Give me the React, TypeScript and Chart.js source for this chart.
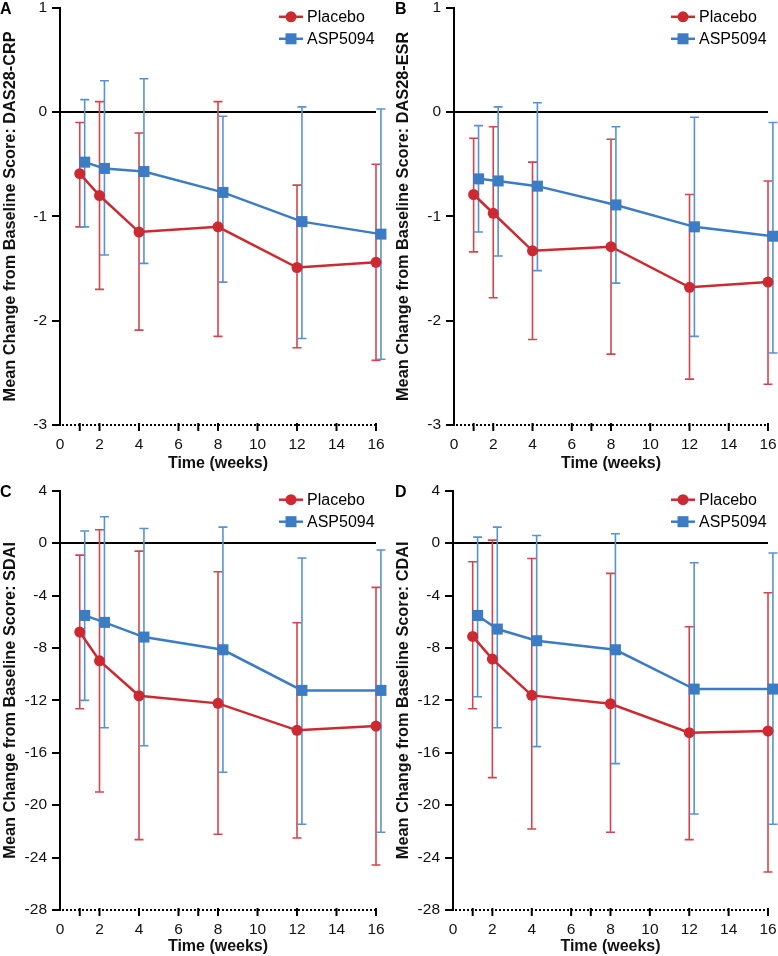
import React, { useEffect, useRef } from "react";
import { Chart, registerables } from "chart.js";

Chart.register(...registerables);

// ---- Data ----
const placeboWeeks = [1, 2, 4, 8, 12, 16];
const aspWeeks = [1.25, 2.25, 4.25, 8.25, 12.25, 16.25];
const xTickValues = [0, 1, 2, 4, 6, 7, 8, 10, 12, 14, 16];
const xLabelValues = [0, 2, 4, 6, 8, 10, 12, 14, 16];

// Panel A: DAS28-CRP
const placeboA = [-0.59, -0.8, -1.15, -1.1, -1.49, -1.44];
const placeboALo = [-1.1, -1.7, -2.09, -2.15, -2.26, -2.38];
const placeboAHi = [-0.1, 0.1, -0.2, 0.1, -0.7, -0.5];
const aspA = [-0.48, -0.54, -0.57, -0.77, -1.05, -1.17];
const aspALo = [-1.1, -1.37, -1.45, -1.63, -2.17, -2.37];
const aspAHi = [0.12, 0.3, 0.32, -0.04, 0.05, 0.03];

// Panel B: DAS28-ESR
const placeboB = [-0.79, -0.97, -1.33, -1.29, -1.68, -1.63];
const placeboBLo = [-1.34, -1.78, -2.18, -2.32, -2.56, -2.61];
const placeboBHi = [-0.25, -0.14, -0.48, -0.26, -0.79, -0.66];
const aspB = [-0.64, -0.66, -0.71, -0.89, -1.1, -1.19];
const aspBLo = [-1.15, -1.38, -1.52, -1.64, -2.15, -2.31];
const aspBHi = [-0.13, 0.05, 0.09, -0.14, -0.05, -0.1];

// Panel C: SDAI
const placeboC = [-6.79, -8.98, -11.65, -12.23, -14.29, -13.96];
const placeboCLo = [-12.64, -18.99, -22.63, -22.22, -22.5, -24.56];
const placeboCHi = [-0.92, 1.02, -0.61, -2.19, -6.08, -3.38];
const aspC = [-5.52, -6.05, -7.17, -8.14, -11.24, -11.24];
const aspCLo = [-12.0, -14.09, -15.46, -17.49, -21.46, -22.07];
const aspCHi = [0.92, 2.01, 1.12, 1.22, -1.14, -0.53];

// Panel D: CDAI
const placeboD = [-7.12, -8.85, -11.62, -12.26, -14.47, -14.34];
const placeboDLo = [-12.64, -17.9, -21.82, -22.07, -22.63, -25.1];
const placeboDHi = [-1.42, 0.23, -1.17, -2.31, -6.38, -3.79];
const aspD = [-5.52, -6.56, -7.45, -8.14, -11.14, -11.14];
const aspDLo = [-11.72, -14.09, -15.53, -16.83, -20.67, -21.46];
const aspDHi = [0.46, 1.22, 0.58, 0.71, -1.5, -0.76];

const seriesNames = ["Placebo", "ASP5094"];
const RED = "#cc2a30";
const RED_BAR = "#d4454b";
const BLUE = "#3b7cc4";
const BLUE_BAR = "#5793d3";
const FONT = 'Arial, "Liberation Sans", Helvetica, sans-serif';

type Panel = {
  letter: string;
  yTitle: string;
  yMin: number;
  yMax: number;
  yStep: number;
  placebo: number[];
  placeboLo: number[];
  placeboHi: number[];
  asp: number[];
  aspLo: number[];
  aspHi: number[];
  left: number;
  top: number;
  right: number;
  bottom: number;
  titleOffset: number;
  letterX: number;
  xTitlePad: number;
};

const W = 389;
const H = 478;

const panels: Panel[] = [
  {
    letter: "A", yTitle: "Mean Change from Baseline Score: DAS28-CRP",
    yMin: -3, yMax: 1, yStep: 1,
    placebo: placeboA, placeboLo: placeboALo, placeboHi: placeboAHi,
    asp: aspA, aspLo: aspALo, aspHi: aspAHi,
    left: 60, top: 5, right: 13, bottom: 425, titleOffset: 1, letterX: 0, xTitlePad: 5,
  },
  {
    letter: "B", yTitle: "Mean Change from Baseline Score: DAS28-ESR",
    yMin: -3, yMax: 1, yStep: 1,
    placebo: placeboB, placeboLo: placeboBLo, placeboHi: placeboBHi,
    asp: aspB, aspLo: aspBLo, aspHi: aspBHi,
    left: 65, top: 5, right: 10, bottom: 425, titleOffset: 5, letterX: 6, xTitlePad: 5,
  },
  {
    letter: "C", yTitle: "Mean Change from Baseline Score: SDAI",
    yMin: -28, yMax: 4, yStep: 4,
    placebo: placeboC, placeboLo: placeboCLo, placeboHi: placeboCHi,
    asp: aspC, aspLo: aspCLo, aspHi: aspCHi,
    left: 60, top: 12.7, right: 13, bottom: 432, titleOffset: 1, letterX: 0, xTitlePad: 0,
  },
  {
    letter: "D", yTitle: "Mean Change from Baseline Score: CDAI",
    yMin: -28, yMax: 4, yStep: 4,
    placebo: placeboD, placeboLo: placeboDLo, placeboHi: placeboDHi,
    asp: aspD, aspLo: aspDLo, aspHi: aspDHi,
    left: 64, top: 12.7, right: 10, bottom: 432, titleOffset: 5, letterX: 6, xTitlePad: 0,
  },
];

function makePlugin(p: Panel) {
  return {
    id: "panelDecor" + p.letter,
    beforeDatasetsDraw(chart: any) {
      const { ctx, chartArea } = chart;
      const xs = chart.scales.x;
      const ys = chart.scales.y;
      ctx.save();
      // zero line
      ctx.strokeStyle = "#000";
      ctx.lineWidth = 2;
      ctx.beginPath();
      ctx.moveTo(chartArea.left, ys.getPixelForValue(0));
      ctx.lineTo(xs.getPixelForValue(16), ys.getPixelForValue(0));
      ctx.stroke();
      // dotted bottom axis
      ctx.setLineDash([2, 2]);
      ctx.beginPath();
      ctx.moveTo(chartArea.left + 2, chartArea.bottom);
      ctx.lineTo(xs.getPixelForValue(16), chartArea.bottom);
      ctx.stroke();
      ctx.setLineDash([]);
      // x ticks
      for (const v of xTickValues) {
        if (v === 0) continue;
        const px = xs.getPixelForValue(v);
        ctx.beginPath();
        ctx.moveTo(px, chartArea.bottom - 2);
        ctx.lineTo(px, chartArea.bottom + 6);
        ctx.stroke();
      }
      // error bars
      const drawBars = (xv: number[], lo: number[], hi: number[], color: string) => {
        ctx.strokeStyle = color;
        ctx.lineWidth = 1.6;
        for (let i = 0; i < xv.length; i++) {
          const px = xs.getPixelForValue(xv[i]);
          const yl = ys.getPixelForValue(lo[i]);
          const yh = ys.getPixelForValue(hi[i]);
          ctx.beginPath();
          ctx.moveTo(px, yl);
          ctx.lineTo(px, yh);
          ctx.moveTo(px - 4.5, yl);
          ctx.lineTo(px + 4.5, yl);
          ctx.moveTo(px - 4.5, yh);
          ctx.lineTo(px + 4.5, yh);
          ctx.stroke();
        }
      };
      drawBars(placeboWeeks, p.placeboLo, p.placeboHi, RED_BAR);
      drawBars(aspWeeks, p.aspLo, p.aspHi, BLUE_BAR);
      ctx.restore();
    },
    afterDraw(chart: any) {
      const { ctx, chartArea } = chart;
      ctx.save();
      // panel letter
      ctx.fillStyle = "#000";
      ctx.font = `bold 16px ${FONT}`;
      ctx.textAlign = "left";
      ctx.textBaseline = "middle";
      ctx.fillText(p.letter, p.letterX, chartArea.top + 2);
      // legend
      const lx = chartArea.right - 97;
      const rows = [
        { name: seriesNames[0], color: RED, shape: "circle", y: chartArea.top + 9 },
        { name: seriesNames[1], color: BLUE, shape: "rect", y: chartArea.top + 31 },
      ];
      for (const r of rows) {
        ctx.strokeStyle = r.color;
        ctx.fillStyle = r.color;
        ctx.lineWidth = 2.5;
        ctx.beginPath();
        ctx.moveTo(lx, r.y);
        ctx.lineTo(lx + 24, r.y);
        ctx.stroke();
        if (r.shape === "circle") {
          ctx.beginPath();
          ctx.arc(lx + 12, r.y, 5.5, 0, Math.PI * 2);
          ctx.fill();
        } else {
          ctx.fillRect(lx + 12 - 5.5, r.y - 5.5, 11, 11);
        }
        ctx.fillStyle = "#000";
        ctx.font = `16px ${FONT}`;
        ctx.textBaseline = "middle";
        ctx.fillText(r.name, lx + 28, r.y + 1);
      }
      ctx.restore();
    },
  };
}

function PanelChart({ p, x, y }: { p: Panel; x: number; y: number }) {
  const ref = useRef<HTMLCanvasElement | null>(null);
  useEffect(() => {
    if (!ref.current) return;
    const chart = new Chart(ref.current, {
      type: "line",
      data: {
        datasets: [
          {
            label: seriesNames[0],
            data: placeboWeeks.map((w, i) => ({ x: w, y: p.placebo[i] })),
            borderColor: RED,
            backgroundColor: RED,
            borderWidth: 2.5,
            pointStyle: "circle",
            pointRadius: 5.5,
            pointBorderWidth: 0,
            tension: 0,
            clip: false as any,
          },
          {
            label: seriesNames[1],
            data: aspWeeks.map((w, i) => ({ x: w, y: p.asp[i] })),
            borderColor: BLUE,
            backgroundColor: BLUE,
            borderWidth: 2.5,
            pointStyle: "rect",
            pointRadius: 7.8,
            pointBorderWidth: 0,
            tension: 0,
            clip: false as any,
          },
        ],
      },
      options: {
        responsive: false,
        animation: false,
        devicePixelRatio: 1,
        layout: { padding: { left: 0, top: p.top, right: p.right, bottom: 0 } },
        plugins: { legend: { display: false }, tooltip: { enabled: false } },
        scales: {
          x: {
            type: "linear",
            min: 0,
            max: 16,
            afterBuildTicks: (s: any) => {
              s.ticks = xTickValues.map((v) => ({ value: v }));
            },
            afterFit: (s: any) => {
              s.height = H - p.bottom;
              s.paddingRight = 0;
              s.paddingLeft = 0;
            },
            ticks: {
              autoSkip: false,
              maxRotation: 0,
              padding: 4,
              color: "#111",
              font: { family: FONT, size: 15.5 },
              callback: (v: any) => (xLabelValues.includes(Number(v)) ? String(v) : ""),
            },
            grid: { display: true, drawOnChartArea: false, drawTicks: true, tickLength: 6, color: "rgba(0,0,0,0)" },
            border: { display: false },
            title: {
              display: true,
              text: "Time (weeks)",
              color: "#111",
              font: { family: FONT, size: 16, weight: "bold" },
              padding: { top: 0, bottom: p.xTitlePad },
            },
          },
          y: {
            type: "linear",
            min: p.yMin,
            max: p.yMax,
            afterFit: (s: any) => {
              s.width = p.left;
              s.paddingTop = 0;
              s.paddingBottom = 0;
            },
            ticks: {
              stepSize: p.yStep,
              padding: 5,
              color: "#111",
              font: { family: FONT, size: 15.5 },
            },
            grid: { display: true, drawOnChartArea: false, drawTicks: true, tickLength: 8, color: "#000", lineWidth: 2 },
            border: { display: true, color: "#000", width: 2 },
            title: {
              display: true,
              text: p.yTitle,
              color: "#111",
              font: { family: FONT, size: 16.3, weight: "bold" },
              padding: { top: p.titleOffset, bottom: 0 },
            },
          },
        },
      } as any,
      plugins: [makePlugin(p)],
    });
    return () => chart.destroy();
  }, [p]);
  return (
    <canvas
      ref={ref}
      width={W}
      height={H}
      style={{ position: "absolute", left: x, top: y, width: W, height: H }}
    />
  );
}

export default function App() {
  return (
    <div style={{ position: "absolute", left: 0, top: 0, width: 778, height: 956, background: "#fff", overflow: "hidden" }}>
      <PanelChart p={panels[0]} x={0} y={0} />
      <PanelChart p={panels[1]} x={389} y={0} />
      <PanelChart p={panels[2]} x={0} y={478} />
      <PanelChart p={panels[3]} x={389} y={478} />
    </div>
  );
}
